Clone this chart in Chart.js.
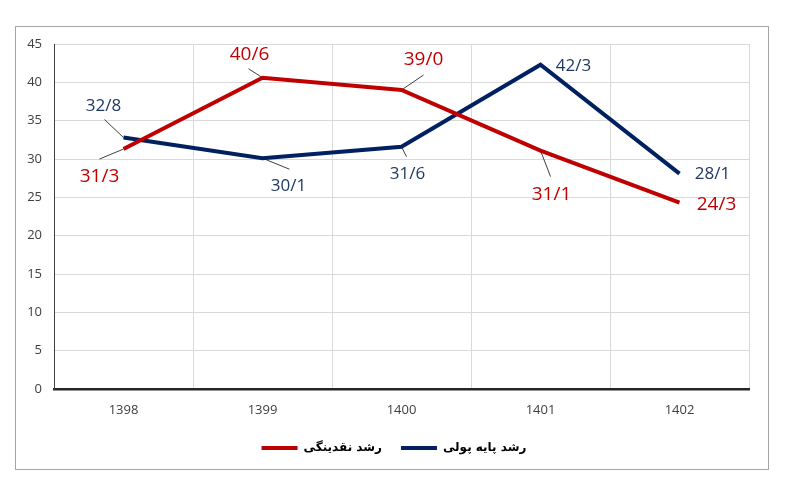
<!DOCTYPE html>
<html>
<head>
<meta charset="utf-8">
<script src="https://cdn.jsdelivr.net/npm/chart.js@4.4.0/dist/chart.umd.min.js"></script>
<style>
  html, body { margin: 0; padding: 0; background: #fff; }
  canvas { display: block; }
</style>
</head>
<body>
<canvas id="myChart" width="796" height="494"></canvas>
<script>
// dati del grafico
const anni = ["1398", "1399", "1400", "1401", "1402"];
const crescitaLiquidita = [31.3, 40.6, 39.0, 31.1, 24.3]; // رشد نقدینگی
const crescitaBase = [32.8, 30.1, 31.6, 42.3, 28.1]; // رشد پایه پولی
const nomiSerie = ["رشد نقدینگی", "رشد پایه پولی"];
const yMax = 45;
const yStep = 5;

const colori = ["#c00000", "#002060"];
const coloriEtichette = ["#c00000", "#1f3864"];

// spostamento etichette rispetto al punto (dx, dy) e inizio della linea guida (lx, ly)
const posEtichette = [
  [
    { dx: -24, dy: 28, lx: -24, ly: 10 },
    { dx: -13, dy: -23, lx: -14, ly: -9 },
    { dx: 22, dy: -30, lx: 22, ly: -15 },
    { dx: 11, dy: 44, lx: 10, ly: 26 },
    { dx: 37, dy: 2 },
  ],
  [
    { dx: -20, dy: -31, lx: -19, ly: -18 },
    { dx: 26, dy: 28, lx: 27, ly: 11 },
    { dx: 6, dy: 27, lx: 5, ly: 10 },
    { dx: 33, dy: 1 },
    { dx: 33, dy: 1 },
  ],
];

// cornice esterna e sfondo
const cornice = {
  id: "cornice",
  afterLayout(chart) {
    // la legenda nell'originale e' centrata un po' piu' a destra
    const l = chart.legend;
    const sposta = 394 - (l.left + l.right) / 2;
    l.left += sposta;
    l.right += sposta;
  },
  beforeDraw(chart) {
    const ctx = chart.ctx;
    ctx.save();
    ctx.fillStyle = "#fff";
    ctx.fillRect(0, 0, chart.width, chart.height);
    ctx.strokeStyle = "#a6a6a6";
    ctx.lineWidth = 1;
    ctx.strokeRect(15.5, 26.5, 753, 443);
    ctx.restore();
  },
};

// etichette dei valori con linee guida
const etichette = {
  id: "etichette",
  beforeDatasetsDraw(chart) {
    const ctx = chart.ctx;
    ctx.save();
    ctx.strokeStyle = "#404040";
    ctx.lineWidth = 1;
    chart.data.datasets.forEach((ds, i) => {
      chart.getDatasetMeta(i).data.forEach((p, j) => {
        const pos = posEtichette[i][j];
        if (pos.lx === undefined) return;
        ctx.beginPath();
        ctx.moveTo(p.x + pos.lx, p.y + pos.ly);
        ctx.lineTo(p.x, p.y);
        ctx.stroke();
      });
    });
    ctx.restore();
  },
  afterDatasetsDraw(chart) {
    const ctx = chart.ctx;
    ctx.save();
    ctx.textAlign = "center";
    ctx.textBaseline = "middle";
    chart.data.datasets.forEach((ds, i) => {
      ctx.fillStyle = coloriEtichette[i];
      ctx.font = (i === 0 ? "19px" : "17px") + " 'Open Sans'";
      chart.getDatasetMeta(i).data.forEach((p, j) => {
        const pos = posEtichette[i][j];
        const testo = ds.data[j].toFixed(1).replace(".", "/");
        ctx.fillText(testo, p.x + pos.dx, p.y + pos.dy);
      });
    });
    ctx.restore();
  },
};

const config = {
  type: "line",
  data: {
    labels: anni,
    datasets: [
      {
        label: nomiSerie[0],
        data: crescitaLiquidita,
        borderColor: colori[0],
        backgroundColor: colori[0],
        borderWidth: 4,
        pointRadius: 0,
        tension: 0,
      },
      {
        label: nomiSerie[1],
        data: crescitaBase,
        borderColor: colori[1],
        backgroundColor: colori[1],
        borderWidth: 4,
        pointRadius: 0,
        tension: 0,
      },
    ],
  },
  options: {
    responsive: false,
    animation: false,
    layout: {
      padding: { left: 24, right: 47, top: 44, bottom: 30 },
    },
    scales: {
      x: {
        offset: true,
        grid: { offset: true, color: "#d9d9d9", drawTicks: false },
        border: { color: "#262626", width: 2.5 },
        ticks: { color: "#404040", font: { family: "'Open Sans'", size: 13 }, padding: 13 },
        afterFit(scale) {
          scale.height = 34;
        },
      },
      y: {
        min: 0,
        max: yMax,
        grid: { color: "#d9d9d9", drawTicks: false },
        border: { color: "#404040", width: 1 },
        ticks: {
          stepSize: yStep,
          color: "#404040",
          font: { family: "'Open Sans'", size: 13 },
          padding: 12,
        },
        afterFit(scale) {
          scale.width = 30;
        },
      },
    },
    plugins: {
      tooltip: { enabled: false },
      legend: {
        position: "bottom",
        labels: {
          boxWidth: 36,
          boxHeight: 4,
          padding: 19,
          color: "#000",
          font: { family: "'DejaVu Sans'", size: 12, weight: "bold" },
          generateLabels: (chart) =>
            Chart.defaults.plugins.legend.labels
              .generateLabels(chart)
              .map((l) => ({ ...l, lineWidth: 0 })),
        },
      },
    },
  },
  plugins: [cornice, etichette],
};

const myChart = new Chart(document.getElementById("myChart"), config);
</script>
</body>
</html>
